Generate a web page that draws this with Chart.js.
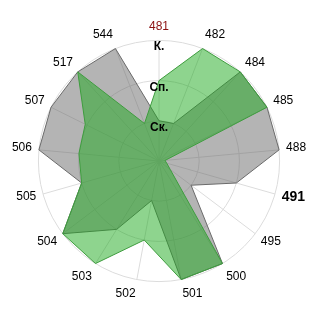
<!DOCTYPE html>
<html>
<head>
<meta charset="utf-8">
<script src="https://cdn.jsdelivr.net/npm/chart.js@4/dist/chart.umd.min.js"></script>
<style>
    html, body { margin: 0; padding: 0; background: #fff; }
    #wrap { width: 320px; height: 320px; }
</style>
</head>
<body>
<div id="wrap"><canvas id="myChart"></canvas></div>
<script>
const categories = ['481', '482', '484', '485', '488', '491', '495', '500', '501',
                    '502', '503', '504', '505', '506', '507', '517', '544'];
const greenValues = [2, 3, 3, 3, 0.15, 0.2, 0.35, 3, 3, 2, 3, 3, 2, 2, 2.05, 3, 1];
const grayValues  = [1, 1, 3, 3, 3, 2, 1, 3, 3, 1, 2, 3, 2, 3, 3, 3, 3];
const tickLabels  = { 1: 'Ск.', 2: 'Сп.', 3: 'К.' };

// chart.js puts side labels above/below their spoke; a small line height
// keeps them centred on it instead
function labelLineHeight(i) {
    const side = Math.min(i, categories.length - i);
    if (side === 4 || side === 5) return 0.2;
    if (side === 3) return 0.5;
    if (side === 6) return 0.67;
    if (side === 2) return 0.75;
    return 1.2;
}

document.addEventListener('DOMContentLoaded', function () {
    const ctx = document.getElementById('myChart').getContext('2d');
    window.myChart = new Chart(ctx, {
        type: 'radar',
        data: {
            labels: categories,
            datasets: [{
                label: 'green',
                data: greenValues,
                backgroundColor: 'rgba(30, 170, 30, 0.5)',
                borderColor: '#3e9c3e',
                borderWidth: 1,
                pointRadius: 0,
                order: 0,
            }, {
                label: 'gray',
                data: grayValues,
                backgroundColor: 'rgba(105, 105, 105, 0.5)',
                borderColor: '#6a6a6a',
                borderWidth: 1,
                pointRadius: 0,
                order: 1,
            }],
        },
        options: {
            responsive: true,
            maintainAspectRatio: false,
            animation: false,
            layout: { padding: { left: 11, right: 11, top: 18, bottom: 18 } },
            plugins: {
                legend: { display: false },
                tooltip: { enabled: false },
            },
            elements: { line: { tension: 0 } },
            scales: {
                r: {
                    min: 0,
                    max: 3,
                    angleLines: { color: '#dcdcdc' },
                    grid: { color: '#dcdcdc', circular: true },
                    ticks: {
                        z: 1, // labels above the fills
                        stepSize: 1,
                        showLabelBackdrop: false,
                        backdropPadding: 0,
                        color: '#000',
                        font: { family: 'Liberation Sans', size: 12, weight: 'bold', lineHeight: 0.55 },
                        callback: v => tickLabels[v] ? ['', tickLabels[v]] : '',
                    },
                    pointLabels: {
                        padding: 1,
                        color: c => c.index === 0 ? '#8b1010' : '#000',
                        font: c => ({
                            family: 'Liberation Sans',
                            size: c.index === 5 ? 14 : 12,
                            weight: c.index === 5 ? 'bold' : 'normal',
                            lineHeight: labelLineHeight(c.index),
                        }),
                    },
                },
            },
        },
    });
});
</script>
</body>
</html>
